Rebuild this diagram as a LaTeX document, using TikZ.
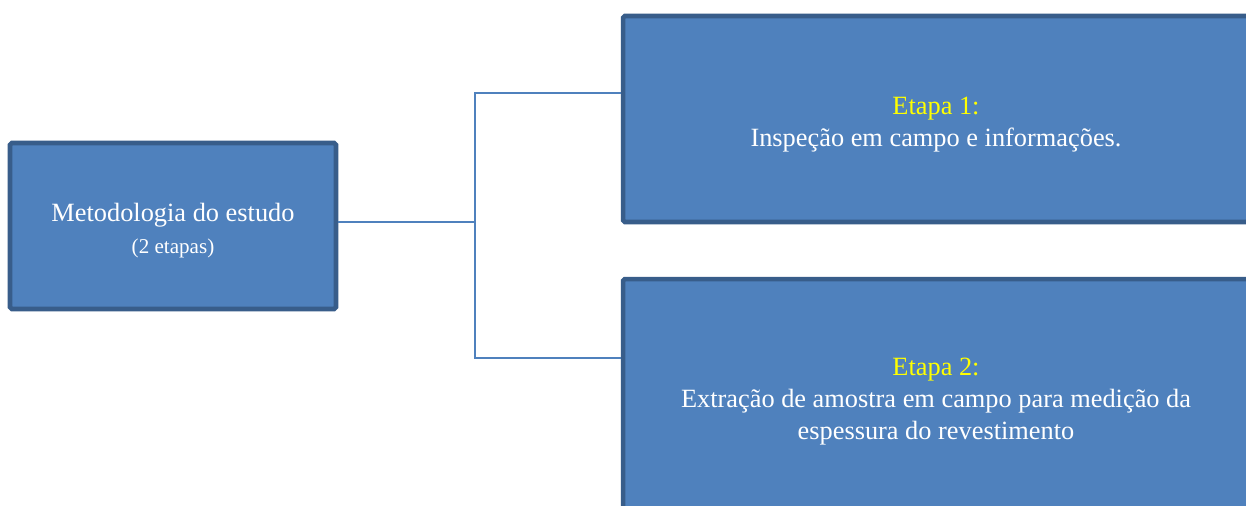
\documentclass[tikz,border=0pt]{standalone}
\usepackage{fontspec}
\setmainfont{Liberation Serif}
\usepackage{tikz}
\usetikzlibrary{positioning,calc}
\definecolor{boxfill}{HTML}{4F81BD}
\definecolor{boxline}{HTML}{385D8A}
\definecolor{etapa}{HTML}{FFFF00}

\begin{document}
\begin{tikzpicture}[x=0.02cm,y=-0.02cm,
    caixa/.style={draw=boxline,fill=boxfill,line width=2.6pt,rounded corners=1pt,
      text=white,align=center,inner sep=0pt,font=\fontsize{15}{18}\selectfont},
    ligacao/.style={draw=boxfill,line width=0.9pt}]
  \clip (0,0) rectangle (1246,505);
  \fill[white] (0,0) rectangle (1246,505);
  \node[caixa,minimum width=6.52cm,minimum height=3.32cm] (metodo) at (173,226)
    {\rule{0pt}{15.5pt}Metodologia do estudo\\{\fontsize{12}{14}\selectfont (2 etapas)}};
  \node[caixa,minimum width=12.52cm,minimum height=4.12cm] (etapa1) at (936,119)
    {\rule{0pt}{16pt}{\color{etapa}Etapa 1:}\\Inspeção em campo e informações.};
  \node[caixa,minimum width=12.52cm,minimum height=4.72cm] (etapa2) at (936,397)
    {\rule{0pt}{15pt}{\color{etapa}Etapa 2:}\\Extração de amostra em campo para medição da\\espessura do revestimento};
  \coordinate (fork) at (475,222);
  \coordinate (ramo1) at (475,93);
  \coordinate (ramo2) at (475,358);
  \draw[ligacao] (fork -| metodo.east) -- (fork);
  \draw[ligacao] (ramo1 -| etapa1.west) -- (ramo1) -- (ramo2) -- (ramo2 -| etapa2.west);
\end{tikzpicture}
\end{document}
